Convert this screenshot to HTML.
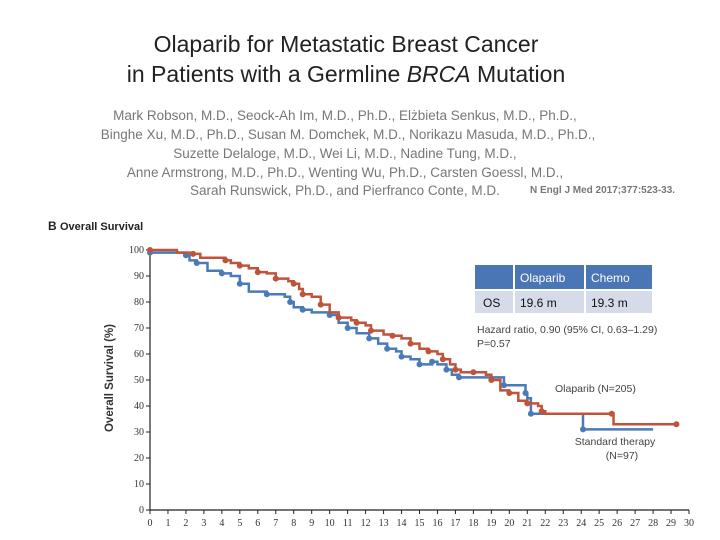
<!DOCTYPE html>
<html><head><meta charset="utf-8"><style>
body{margin:0;background:#fff;}
#wrap{position:relative;width:720px;height:540px;overflow:hidden;font-family:"Liberation Sans",sans-serif;}
</style></head><body>
<div id="wrap">
<svg id="chart" width="720" height="540">
<text x="346" y="52" text-anchor="middle" font-family="Liberation Sans" font-size="23" fill="#222">Olaparib for Metastatic Breast Cancer</text>
<text x="346" y="82" text-anchor="middle" font-family="Liberation Sans" font-size="23" fill="#222">in Patients with a Germline <tspan font-style="italic">BRCA</tspan> Mutation</text>
<g font-size="13.5" fill="#777" text-anchor="middle">
<text x="345" y="120">Mark Robson, M.D., Seock-Ah Im, M.D., Ph.D., Elżbieta Senkus, M.D., Ph.D.,</text>
<text x="348" y="139">Binghe Xu, M.D., Ph.D., Susan M. Domchek, M.D., Norikazu Masuda, M.D., Ph.D.,</text>
<text x="345" y="158">Suzette Delaloge, M.D., Wei Li, M.D., Nadine Tung, M.D.,</text>
<text x="345" y="177">Anne Armstrong, M.D., Ph.D., Wenting Wu, Ph.D., Carsten Goessl, M.D.,</text>
<text x="345" y="195">Sarah Runswick, Ph.D., and Pierfranco Conte, M.D.</text>
</g>
<text x="530" y="193" font-size="10" font-weight="bold" fill="#777">N Engl J Med 2017;377:523-33.</text>
<text x="48" y="230" font-size="12" font-weight="bold" fill="#222">B  <tspan font-size="11">Overall Survival</tspan></text>
<text transform="translate(113,378) rotate(-90)" text-anchor="middle" font-size="11.5" font-weight="bold" fill="#333">Overall Survival (%)</text>
<g id="axes"></g>
<g id="series"></g>
<g>
<rect x="475" y="265" width="38" height="24" fill="#4a76b5"/>
<rect x="515" y="265" width="69" height="24" fill="#4a76b5"/>
<rect x="586" y="265" width="66" height="24" fill="#4a76b5"/>
<rect x="475" y="291" width="38" height="22" fill="#d5dbe8"/>
<rect x="515" y="291" width="69" height="22" fill="#d5dbe8"/>
<rect x="586" y="291" width="66" height="22" fill="#d5dbe8"/>
<text x="520" y="282" font-size="12" fill="#fff">Olaparib</text>
<text x="591" y="282" font-size="12" fill="#fff">Chemo</text>
<text x="483" y="307" font-size="12" fill="#111">OS</text>
<text x="520" y="307" font-size="12" fill="#111">19.6 m</text>
<text x="591" y="307" font-size="12" fill="#111">19.3 m</text>
</g>
<text x="477" y="333" font-size="10.5" fill="#444">Hazard ratio, 0.90 (95% CI, 0.63–1.29)</text>
<text x="477" y="347" font-size="10.5" fill="#444">P=0.57</text>
<text x="555" y="392" font-size="10.5" fill="#444">Olaparib (N=205)</text>
<text x="615" y="445" text-anchor="middle" font-size="10.5" fill="#444">Standard therapy</text>
<text x="622" y="459" text-anchor="middle" font-size="10.5" fill="#444">(N=97)</text>
</svg>
</div>
<script>
const xTicks=[0,1,2,3,4,5,6,7,8,9,10,11,12,13,14,15,16,17,18,19,20,21,22,23,24,25,26,27,28,29,30];
const yTicks=[0,10,20,30,40,50,60,70,80,90,100];
const olaMonths=[0,1.5,2.4,2.8,4.2,4.5,5,5.5,6,6.5,7,7.7,8,8.3,8.5,9,9.5,10,10.5,11.2,11.5,12,12.3,13,13.5,14,14.5,15,15.5,16,16.3,16.7,17,17.3,18,18.7,19,19.5,20,20.5,21,21.6,21.8,22,25.7,25.8,29.3];
const olaSurv=[100,99,98.5,97,96,95,94,93,91.5,91,89,88,87,85,83,82,79,76,74,73,72,71,69,67.5,67,66,64,62,61,60,58,56,54,53,53,52,50,46,45,42,41,40,38,37,37,33,33];
const stdMonths=[0,1.5,2,2.2,2.6,3.2,4,4.5,5,5.5,6.5,7.5,7.8,8,8.5,9,10,10.5,11,11.5,12.2,12.7,13.2,13.7,14,14.5,15,15.5,15.7,16,16.5,16.8,17.2,19.5,19.7,20.8,20.9,21,21.2,24,24.1,28];
const stdSurv=[99,99,98,96,95,92,91,90,87,84,83,82,80,78,77,76,75,72,70,68,66,64,62,61,59,58,56,56,57,56,54,52,51,51,48,48,45,43,37,37,31,31];
const X0=150,X1=689,Y0=510,Y1=250;
const xs=m=>X0+(X1-X0)*m/30;
const ys=v=>Y0-(Y0-Y1)*v/100;
const NS='http://www.w3.org/2000/svg';
const axes=document.getElementById('axes');
function mk(tag,attrs,parent){const e=document.createElementNS(NS,tag);for(const k in attrs)e.setAttribute(k,attrs[k]);parent.appendChild(e);return e;}
const xl=mk('line',{x1:X0,y1:Y0,x2:X1,y2:Y0,stroke:'#222','stroke-width':1.2},axes);


const yl=mk('line',{x1:X0,y1:Y0,x2:X0,y2:Y1,stroke:'#222','stroke-width':1.2},axes);


xTicks.forEach(t=>{
  mk('line',{x1:xs(t),y1:Y0,x2:xs(t),y2:Y0+4,stroke:'#222'},axes);
  const tx=mk('text',{x:xs(t),y:Y0+16,'text-anchor':'middle','font-size':10,'font-family':'Liberation Serif',fill:'#333'},axes);
  tx.textContent=t;
  
  
});
yTicks.forEach(t=>{
  mk('line',{x1:X0-4,y1:ys(t),x2:X0,y2:ys(t),stroke:'#222'},axes);
  const tx=mk('text',{x:X0-6,y:ys(t)+3,'text-anchor':'end','font-size':10,'font-family':'Liberation Serif',fill:'#333'},axes);
  tx.textContent=t;
  
  
});
const series=document.getElementById('series');
function draw(ms,vs,color,name){
  let d='M'+xs(ms[0])+','+ys(vs[0]);
  for(let i=1;i<ms.length;i++){d+=' H'+xs(ms[i])+' V'+ys(vs[i]);}
  const p=mk('path',{d:d,fill:'none',stroke:color,'stroke-width':2.5},series);
  
  
  for(let i=0;i<ms.length;i+=2){
    const c=mk('circle',{cx:xs(ms[i]),cy:ys(vs[i]),r:3,fill:color},series);
    
    
  }
}
draw(stdMonths,stdSurv,'#4a7ab8','standard');
draw(olaMonths,olaSurv,'#c0533a','olaparib');
</script>
</body></html>
